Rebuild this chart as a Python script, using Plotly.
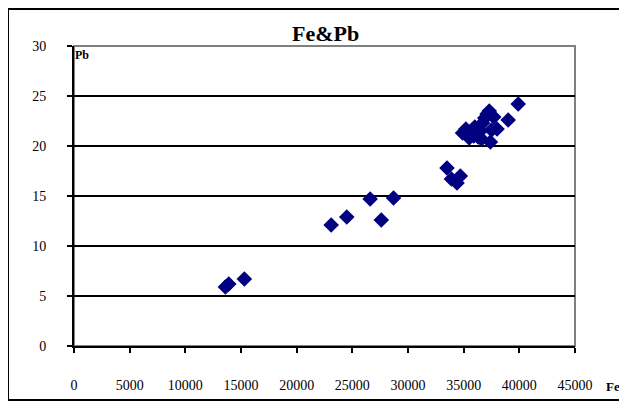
import plotly.graph_objects as go

fe = [13600, 13900, 15300, 23100, 24500, 26600, 27600, 28700,
      33500, 33900, 34400, 34700,
      34900, 35200, 35500, 35800, 36000, 36300, 36500, 36700, 36900,
      37100, 37300, 37500, 37700, 38000, 37400, 36600, 35900, 39000, 39900]
pb = [5.9, 6.2, 6.7, 12.1, 12.9, 14.7, 12.6, 14.8,
      17.8, 16.7, 16.3, 17.0,
      21.3, 21.7, 20.8, 21.2, 21.9, 20.9, 21.5, 22.3, 22.8,
      23.2, 23.5, 21.6, 22.9, 21.7, 20.4, 20.7, 21.0, 22.6, 24.2]
x_ticks = list(range(0, 45001, 5000))
x_labels = [str(v) for v in x_ticks]
y_ticks = list(range(0, 31, 5))
y_labels = [str(v) for v in y_ticks]

# page body has an 8px margin: figure is placed at (8, 8)
OFF = 8
W, H = 627 - OFF, 405 - OFF
L, R, T, B = 74 - OFF, 52, 46 - OFF, 59
pw, ph = W - L - R, H - T - B

def px(xp):
    return (xp - OFF - L) / pw

def py(yp):
    return (H - B - (yp - OFF)) / ph

fig = go.Figure()
fig.add_trace(go.Scatter(
    x=fe, y=pb, mode="markers",
    marker=dict(symbol="diamond", size=12, color="#000080",
                line=dict(width=0)),
    showlegend=False,
))

font = dict(family="Liberation Serif, Times New Roman, serif", color="black", size=14)

fig.update_layout(
    width=W, height=H,
    margin=dict(l=L, r=R, t=T, b=B, autoexpand=False),
    paper_bgcolor="white", plot_bgcolor="white",
    font=font,
    xaxis=dict(range=[0, 45000], tickvals=x_ticks, ticktext=x_labels,
               automargin=False,
               showgrid=False, zeroline=False, showline=True,
               linecolor="black", linewidth=2, ticks="outside",
               ticklen=5, tickwidth=2, tickcolor="black",
               ticklabelstandoff=20, tickfont=font),
    yaxis=dict(range=[0, 30], tickvals=y_ticks, ticktext=y_labels,
               automargin=False,
               showgrid=True, gridcolor="black", gridwidth=2,
               zeroline=False, showline=True,
               linecolor="black", linewidth=2, ticks="outside",
               ticklen=5, tickwidth=2, tickcolor="black",
               ticklabelstandoff=18, tickfont=font),
    shapes=[
        dict(type="rect", xref="paper", yref="paper",
             x0=0, x1=1, y0=0, y1=1,
             line=dict(color="#808080", width=2), layer="below"),
        dict(type="rect", xref="paper", yref="paper",
             x0=px(8), x1=px(640), y0=py(400), y1=py(9),
             line=dict(color="black", width=2)),
    ],
    annotations=[
        dict(text="<b>Fe&Pb</b>", xref="paper", yref="paper",
             x=px(325), y=py(34), xanchor="center", yanchor="middle",
             showarrow=False,
             font=dict(family="Liberation Serif, serif", size=22, color="black")),
        dict(text="<b>Pb</b>", xref="paper", yref="paper",
             x=px(82), y=py(55), xanchor="center", yanchor="middle",
             showarrow=False,
             font=dict(family="Liberation Serif, serif", size=12, color="black")),
        dict(text="<b>Fe</b>", xref="paper", yref="paper",
             x=px(604), y=py(386), xanchor="left", yanchor="middle",
             showarrow=False,
             font=dict(family="Liberation Serif, serif", size=13, color="black")),
    ],
)

fig.write_html("out.html")
